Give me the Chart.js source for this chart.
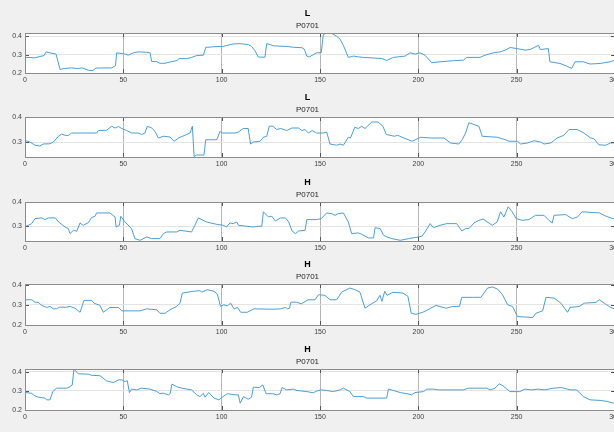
<!DOCTYPE html>
<html>
<head>
<meta charset="utf-8">
<script src="https://cdn.jsdelivr.net/npm/chart.js@4"></script>
<style>
  html, body { margin: 0; padding: 0; background: #f0f0f0; }
  body { width: 614px; height: 432px; overflow: hidden; position: relative; }
  canvas { position: absolute; left: 0; }
</style>
</head>
<body>
<script>
'use strict';

// panel titles
const titles = ['L', 'L', 'H', 'H', 'H'];
const subtitle = 'P0701';
const xTicks = [0, 50, 100, 150, 200, 250, 300];
const yTicks = [0.2, 0.3, 0.4];
const yLimits = [[0.2, 0.418], [0.24, 0.4], [0.238, 0.402], [0.2, 0.403], [0.2, 0.414]];

const p1x = [0, 5, 7.6, 9.7, 10.7, 12.7, 15.8, 17.8, 20, 23.7, 27.1, 28.8, 30.5, 32.2, 34.7, 35.9, 44.1, 45.3, 46, 46.6, 50.9, 52.5, 55.1, 57.6, 61.9, 63.6, 64.4, 67, 68.6, 71.2, 73.7, 76.3, 77.5, 78.5, 82.2, 84.7, 87.3, 90.7, 91.9, 93, 95.7, 100.8, 102.5, 105.9, 109.3, 113.5, 115.2, 117, 118.6, 122, 122.9, 124.5, 126.3, 133.1, 136.5, 140.8, 142, 143.3, 144.5, 146.6, 148.3, 150.6, 151.7, 153.4, 155.9, 158.5, 160.2, 161.9, 164.4, 167, 169.5, 172.1, 181.4, 183.9, 187.3, 193.2, 195.8, 198.3, 200.9, 203.4, 206.8, 211, 217.8, 222.9, 224.6, 231.4, 233.9, 238.2, 241.6, 244.1, 246.7, 250.1, 254.3, 256.9, 261.1, 262, 266.1, 266.9, 272, 275.4, 278, 279.7, 283.9, 287.3, 292.4, 297.5, 300];
const p1y = [0.285, 0.283, 0.29, 0.295, 0.315, 0.31, 0.303, 0.22, 0.224, 0.228, 0.224, 0.228, 0.222, 0.215, 0.213, 0.227, 0.228, 0.235, 0.24, 0.31, 0.303, 0.297, 0.31, 0.315, 0.313, 0.31, 0.263, 0.262, 0.253, 0.253, 0.26, 0.265, 0.27, 0.279, 0.278, 0.285, 0.295, 0.297, 0.34, 0.34, 0.343, 0.345, 0.35, 0.358, 0.36, 0.355, 0.345, 0.32, 0.287, 0.286, 0.36, 0.355, 0.348, 0.345, 0.34, 0.338, 0.33, 0.292, 0.287, 0.3, 0.31, 0.31, 0.41, 0.418, 0.416, 0.4, 0.385, 0.35, 0.285, 0.292, 0.288, 0.285, 0.279, 0.268, 0.285, 0.292, 0.31, 0.303, 0.31, 0.297, 0.256, 0.261, 0.267, 0.27, 0.285, 0.285, 0.297, 0.31, 0.315, 0.324, 0.339, 0.333, 0.325, 0.328, 0.351, 0.328, 0.333, 0.261, 0.252, 0.238, 0.225, 0.261, 0.261, 0.249, 0.252, 0.261, 0.27];

const p2x = [0.5, 2.5, 5.1, 7.6, 9.3, 12.7, 14.4, 17, 18.6, 20.3, 22, 23.7, 28, 36.4, 37.3, 41.5, 44.1, 45.8, 47.5, 49.2, 51.7, 54.2, 57.6, 59.3, 61, 62.2, 64.4, 66.1, 67.8, 70.4, 73.7, 75.8, 78, 82.2, 83.9, 85.1, 86, 87.3, 91, 91.9, 97.5, 99.2, 100, 106.8, 108.5, 111, 113.5, 114.7, 116.1, 119.5, 121.2, 122.9, 124.2, 126, 128, 130, 133.1, 135.7, 139.1, 140.8, 142.4, 144.1, 146, 148.3, 151.7, 153.4, 155.1, 158.5, 160.2, 161.9, 164.4, 165.5, 167.7, 169.5, 171.2, 172.9, 176.3, 179.5, 182, 183.7, 187.9, 189.5, 192.6, 196.9, 201.1, 206.2, 213, 216.4, 220.6, 222.3, 224, 225.7, 228.3, 230.8, 232.5, 240.1, 244.3, 246.1, 250.3, 252, 255.4, 258.8, 262.2, 263.9, 267.3, 270.6, 274, 276.6, 280.8, 284.2, 287.6, 289.3, 291.8, 295.2, 297.7, 300];
const p2y = [0.305, 0.3, 0.287, 0.284, 0.292, 0.293, 0.3, 0.323, 0.332, 0.327, 0.326, 0.336, 0.336, 0.336, 0.346, 0.347, 0.363, 0.356, 0.362, 0.354, 0.346, 0.336, 0.336, 0.33, 0.336, 0.363, 0.356, 0.343, 0.316, 0.323, 0.32, 0.303, 0.316, 0.33, 0.336, 0.363, 0.242, 0.248, 0.248, 0.309, 0.309, 0.343, 0.336, 0.336, 0.34, 0.354, 0.354, 0.292, 0.3, 0.303, 0.319, 0.323, 0.363, 0.363, 0.35, 0.354, 0.346, 0.356, 0.356, 0.346, 0.35, 0.336, 0.346, 0.336, 0.336, 0.34, 0.292, 0.287, 0.292, 0.287, 0.319, 0.316, 0.359, 0.354, 0.363, 0.354, 0.38, 0.38, 0.363, 0.33, 0.323, 0.327, 0.316, 0.303, 0.319, 0.316, 0.316, 0.296, 0.292, 0.309, 0.336, 0.377, 0.37, 0.363, 0.323, 0.319, 0.309, 0.303, 0.303, 0.292, 0.296, 0.305, 0.3, 0.292, 0.296, 0.316, 0.327, 0.35, 0.35, 0.336, 0.316, 0.313, 0.289, 0.287, 0.296, 0.296];

const p3x = [0.5, 1.7, 3.4, 5.1, 8.5, 10.2, 11.9, 15.4, 17.1, 20.3, 22, 22.9, 24.6, 26.3, 28, 29.6, 32.2, 33.9, 35.6, 36.4, 43.2, 45.8, 46.3, 48, 48.7, 50.9, 54.2, 55.9, 58.5, 61.9, 64.4, 68.6, 70.4, 72, 77.1, 78.8, 84.7, 86.4, 88.1, 92.3, 97.5, 100.8, 102.5, 104.2, 105.9, 107.7, 108.5, 112.8, 116.1, 118.6, 120.4, 121.2, 123.8, 125.5, 127.3, 129.9, 132.4, 134.1, 135.8, 137.5, 139.1, 142.4, 143.3, 148.3, 150.6, 153.4, 156, 157.6, 159.3, 161.9, 164.4, 166.1, 169.5, 171.2, 174.6, 177.2, 178, 180.6, 182.3, 184, 186.5, 190.8, 195.1, 200.1, 201.8, 203.4, 206, 207.7, 211, 214.4, 219.5, 222.1, 224, 225.7, 228.3, 230.8, 233, 237.6, 240.1, 241.8, 243.5, 245.7, 247.7, 249.8, 252.8, 256.2, 259.6, 263.9, 266.4, 268.1, 269, 274.9, 278.3, 280.9, 283.3, 292.1, 295.5, 298.9, 300];
const p3y = [0.3, 0.304, 0.311, 0.332, 0.335, 0.328, 0.335, 0.335, 0.318, 0.297, 0.29, 0.269, 0.283, 0.279, 0.314, 0.304, 0.315, 0.337, 0.342, 0.356, 0.356, 0.339, 0.297, 0.304, 0.342, 0.318, 0.29, 0.248, 0.241, 0.255, 0.248, 0.248, 0.269, 0.276, 0.276, 0.283, 0.276, 0.304, 0.335, 0.318, 0.308, 0.304, 0.297, 0.314, 0.311, 0.318, 0.304, 0.3, 0.297, 0.3, 0.3, 0.361, 0.339, 0.342, 0.322, 0.335, 0.335, 0.318, 0.28, 0.269, 0.28, 0.283, 0.328, 0.328, 0.332, 0.356, 0.353, 0.346, 0.353, 0.356, 0.318, 0.269, 0.272, 0.266, 0.251, 0.251, 0.294, 0.29, 0.262, 0.255, 0.248, 0.241, 0.248, 0.255, 0.258, 0.276, 0.311, 0.294, 0.304, 0.311, 0.311, 0.28, 0.29, 0.29, 0.314, 0.325, 0.33, 0.304, 0.318, 0.361, 0.339, 0.382, 0.361, 0.332, 0.325, 0.328, 0.346, 0.346, 0.325, 0.314, 0.346, 0.349, 0.332, 0.339, 0.361, 0.356, 0.342, 0.332, 0.332];

const p4x = [0.5, 3.4, 5.1, 6.8, 8.5, 11, 12.7, 14.4, 16, 17.5, 21.2, 22.9, 25.4, 28, 30, 33.9, 35.1, 38.1, 39.8, 41.5, 43.2, 47.5, 49.2, 58.5, 61.9, 67, 68.6, 71.2, 73.7, 77.1, 78.8, 80, 85.6, 89, 89.9, 92.7, 96.1, 97.8, 99.4, 101.1, 102.9, 104.6, 106.3, 108, 109.7, 113, 116.4, 126.6, 130, 132.5, 133.5, 134.5, 135.2, 138, 140.5, 143.9, 147.5, 149.2, 152.5, 155.1, 158.5, 161, 165.2, 167.7, 170.3, 172.9, 175.4, 178.8, 180.5, 181.5, 182.9, 184.1, 187.1, 192.2, 194.7, 196.4, 198.8, 202.3, 205.7, 209, 214.1, 217.5, 220.9, 222.1, 227.6, 231.8, 235.2, 237.7, 240.3, 242.8, 245.4, 247.9, 250.4, 258.1, 259.8, 263.2, 264.9, 269.1, 272.5, 275.9, 277.1, 281.8, 284.4, 290.3, 292, 294.5, 297, 298.7, 300];
const p4y = [0.325, 0.325, 0.313, 0.312, 0.297, 0.287, 0.292, 0.28, 0.28, 0.288, 0.288, 0.292, 0.283, 0.263, 0.322, 0.322, 0.308, 0.297, 0.263, 0.275, 0.287, 0.287, 0.27, 0.27, 0.28, 0.275, 0.258, 0.258, 0.275, 0.292, 0.308, 0.358, 0.367, 0.37, 0.363, 0.375, 0.367, 0.353, 0.292, 0.3, 0.295, 0.308, 0.28, 0.287, 0.263, 0.263, 0.28, 0.278, 0.28, 0.287, 0.28, 0.283, 0.313, 0.313, 0.305, 0.325, 0.325, 0.35, 0.347, 0.325, 0.325, 0.363, 0.383, 0.375, 0.363, 0.283, 0.3, 0.32, 0.347, 0.317, 0.367, 0.347, 0.362, 0.358, 0.342, 0.258, 0.253, 0.263, 0.28, 0.297, 0.283, 0.292, 0.292, 0.337, 0.337, 0.337, 0.383, 0.388, 0.378, 0.35, 0.3, 0.292, 0.242, 0.237, 0.258, 0.27, 0.337, 0.333, 0.308, 0.263, 0.287, 0.292, 0.308, 0.312, 0.325, 0.308, 0.292, 0.283, 0.28];

const p5x = [0.5, 3.4, 5.1, 6.8, 10.2, 11, 12.7, 14.1, 16.1, 21.2, 22.9, 24, 24.9, 27.1, 32.2, 33.9, 38.1, 41.5, 44.9, 47.5, 49.2, 50.9, 52, 53.1, 54.2, 56.8, 59.3, 63.6, 67, 68.6, 70.3, 72.9, 73.8, 74.7, 77.1, 79.7, 84.7, 87.3, 89, 90.7, 91.5, 93.4, 96.1, 98.6, 101.2, 102.9, 106.8, 108.5, 109.4, 111.1, 113.5, 115.2, 116.1, 119.2, 120.9, 122.6, 126, 128, 129.7, 130.7, 133.1, 136.5, 138.2, 143.3, 146.6, 148.3, 150.6, 153.4, 156.8, 160.2, 161.9, 165.2, 167, 172.1, 173.7, 183.9, 184.8, 187.3, 190.8, 194.2, 196.6, 198.3, 202.6, 204.3, 207.7, 210.3, 214.4, 222.9, 225.4, 234.8, 236.5, 239, 241.1, 243.1, 246.5, 251.6, 254.1, 257.5, 260.9, 264.3, 268.6, 272.9, 277.1, 280.5, 283.9, 287.3, 292.4, 295.8, 299.2, 300];
const p5y = [0.291, 0.287, 0.273, 0.267, 0.262, 0.253, 0.253, 0.296, 0.314, 0.314, 0.322, 0.33, 0.413, 0.389, 0.387, 0.381, 0.379, 0.352, 0.343, 0.357, 0.357, 0.348, 0.353, 0.291, 0.309, 0.305, 0.314, 0.309, 0.297, 0.285, 0.288, 0.279, 0.285, 0.335, 0.322, 0.314, 0.305, 0.279, 0.27, 0.287, 0.267, 0.291, 0.262, 0.253, 0.274, 0.285, 0.279, 0.279, 0.236, 0.27, 0.256, 0.267, 0.319, 0.317, 0.331, 0.285, 0.285, 0.279, 0.285, 0.317, 0.305, 0.309, 0.302, 0.296, 0.29, 0.299, 0.305, 0.302, 0.296, 0.305, 0.314, 0.296, 0.27, 0.27, 0.262, 0.262, 0.309, 0.302, 0.291, 0.285, 0.279, 0.291, 0.296, 0.309, 0.309, 0.305, 0.305, 0.305, 0.314, 0.314, 0.305, 0.314, 0.337, 0.326, 0.296, 0.296, 0.309, 0.305, 0.309, 0.305, 0.314, 0.317, 0.305, 0.305, 0.27, 0.253, 0.25, 0.245, 0.236, 0.236];

const seriesX = [p1x, p2x, p3x, p4x, p5x];
const seriesY = [p1y, p2y, p3y, p4y, p5y];

// axes box positions in the figure (px)
const axesTops = [33, 117, 202, 284, 369];
const axesBottoms = [73, 157, 241, 325, 410];
const axesLeft = 25;
const canvasWidth = 640;
const headerHeight = 28;
const footerHeight = 16;

const lineColor = '#4a9fd8';
const boxColor = '#8c8c8c';

Chart.defaults.font.family = '"Liberation Sans Narrow", "Liberation Sans", Arial, sans-serif';

const axesBox = {
  id: 'axesBox',
  beforeDraw(chart) {
    const { ctx, chartArea: a } = chart;
    ctx.save();
    ctx.fillStyle = '#ffffff';
    ctx.fillRect(a.left, a.top, a.right - a.left, a.bottom - a.top);
    ctx.restore();
  },
  afterDatasetsDraw(chart) {
    const { ctx, chartArea: a, scales } = chart;
    ctx.save();
    ctx.strokeStyle = '#555555';
    ctx.lineWidth = 1;
    ctx.beginPath();
    scales.x.ticks.forEach((t) => {
      const px = Math.round(scales.x.getPixelForValue(t.value)) + 0.5;
      ctx.moveTo(px, a.bottom);
      ctx.lineTo(px, a.bottom - 4);
      ctx.moveTo(px, a.top);
      ctx.lineTo(px, a.top + 4);
    });
    scales.y.ticks.forEach((t) => {
      const py = Math.round(scales.y.getPixelForValue(t.value)) + 0.5;
      ctx.moveTo(a.left, py);
      ctx.lineTo(a.left + 4, py);
      ctx.moveTo(a.right, py);
      ctx.lineTo(a.right - 4, py);
    });
    ctx.stroke();
    ctx.strokeStyle = boxColor;
    ctx.strokeRect(Math.round(a.left) + 0.5, Math.round(a.top) + 0.5,
      Math.round(a.right - a.left), Math.round(a.bottom - a.top));
    ctx.restore();
  },
};

titles.forEach((label, i) => {
  const plotHeight = axesBottoms[i] - axesTops[i];
  const canvas = document.createElement('canvas');
  canvas.width = canvasWidth;
  canvas.height = headerHeight + plotHeight + footerHeight;
  canvas.style.top = (axesTops[i] - headerHeight) + 'px';
  document.body.appendChild(canvas);

  const points = seriesX[i].map((x, k) => ({ x, y: seriesY[i][k] }));
  const [yMin, yMax] = yLimits[i];

  new Chart(canvas, {
    type: 'line',
    data: {
      datasets: [{
        data: points,
        borderColor: lineColor,
        borderWidth: 1,
        pointRadius: 0,
        tension: 0,
        fill: false,
      }],
    },
    options: {
      responsive: false,
      animation: false,
      events: [],
      layout: { padding: { left: 0, right: canvasWidth - 615, top: 0, bottom: 2 } },
      plugins: {
        legend: { display: false },
        tooltip: { enabled: false },
        title: {
          display: true,
          text: label,
          color: '#000000',
          font: { size: 9, weight: 'bold', lineHeight: 1 },
          padding: { top: 4, bottom: 3 },
        },
        subtitle: {
          display: true,
          text: subtitle,
          color: '#262626',
          font: { size: 8, lineHeight: 1 },
          padding: { top: 1, bottom: 3 },
        },
      },
      scales: {
        x: {
          type: 'linear',
          min: 0,
          max: 300,
          afterBuildTicks: (scale) => { scale.ticks = xTicks.map((v) => ({ value: v })); },
          afterFit: (scale) => { scale.height = footerHeight - 2; },
          grid: { color: '#b4b4b4', drawTicks: false },
          border: { color: boxColor },
          ticks: { color: '#404040', font: { size: 7 }, padding: 3, maxRotation: 0 },
        },
        y: {
          min: yMin,
          max: yMax,
          afterBuildTicks: (scale) => {
            scale.ticks = yTicks.filter((v) => v >= yMin - 1e-9 && v <= yMax + 1e-9).map((v) => ({ value: v }));
          },
          afterFit: (scale) => { scale.width = axesLeft; },
          grid: { color: '#e4e4e4', drawTicks: false },
          border: { color: boxColor },
          ticks: {
            color: '#404040',
            font: { size: 7 },
            padding: 3,
            callback: (v) => v.toFixed(1),
          },
        },
      },
    },
    plugins: [axesBox],
  });
});
</script>
</body>
</html>
